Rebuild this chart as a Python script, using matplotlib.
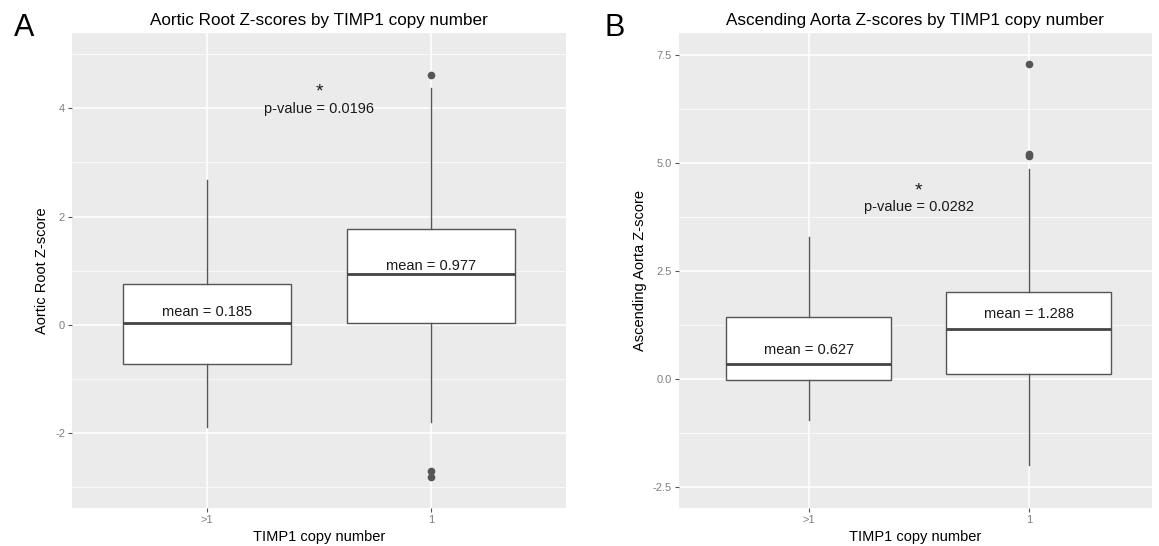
import matplotlib.pyplot as plt

plt.rcParams['font.family'] = ['Liberation Sans', 'DejaVu Sans']
plt.rcParams['axes.unicode_minus'] = False

groups = [">1", "1"]

# panel A: aortic root z-scores
root_q1 = [-0.73, 0.04]
root_med = [0.04, 0.94]
root_q3 = [0.75, 1.78]
root_whislo = [-1.88, -1.80]
root_whishi = [2.67, 4.37]
root_fliers = [[], [4.61, -2.69, -2.81]]
root_means = ["0.185", "0.977"]
root_mean_y = [0.24, 1.09]
root_p = "0.0196"

# panel B: ascending aorta z-scores
asc_q1 = [-0.03, 0.11]
asc_med = [0.35, 1.15]
asc_q3 = [1.43, 2.01]
asc_whislo = [-0.96, -2.0]
asc_whishi = [3.29, 4.86]
asc_fliers = [[], [7.3, 5.2, 5.15]]
asc_means = ["0.627", "1.288"]
asc_mean_y = [0.68, 1.50]
asc_p = "0.0282"

W, H = 1159, 546
fig = plt.figure(figsize=(W / 100, H / 100), dpi=100)


def px_axes(left, right, top, bottom):
    return fig.add_axes([left / W, 1 - bottom / H, (right - left) / W, (bottom - top) / H])


def draw_panel(ax, q1, med, q3, lo, hi, fliers, means, mean_y, pval, star_y,
               ylim, yticks, yminor, ylabel, xlim, title):
    ax.set_facecolor('#EBEBEB')
    for s in ax.spines.values():
        s.set_visible(False)

    stats = []
    for i in range(2):
        stats.append(dict(q1=q1[i], med=med[i], q3=q3[i], whislo=lo[i],
                          whishi=hi[i], fliers=fliers[i]))
    ax.bxp(stats, positions=[1, 2], widths=0.75, patch_artist=True,
           showcaps=False,
           boxprops=dict(facecolor='white', edgecolor='#555555', lw=1.0),
           whiskerprops=dict(color='#555555', lw=1.0),
           medianprops=dict(color='#444444', lw=2.0),
           flierprops=dict(marker='o', markerfacecolor='#555555',
                           markeredgecolor='#555555', markersize=4.5))

    ax.set_xlim(*xlim)
    ax.set_ylim(*ylim)
    ax.set_yticks(yticks)
    ax.set_yticks(yminor, minor=True)
    ax.set_xticks([1, 2])
    ax.set_xticklabels(groups)
    ax.grid(which='major', color='white', lw=1.1)
    ax.grid(which='minor', axis='y', color='white', lw=0.5)
    ax.set_axisbelow(True)
    ax.tick_params(which='major', length=3, color='#555555', labelcolor='#7F7F7F',
                   labelsize=8, pad=2)
    ax.tick_params(which='minor', length=0)

    for i in range(2):
        ax.text(i + 1, mean_y[i], "mean = " + means[i], ha='center', va='center',
                fontsize=10.5, color='#1a1a1a')
    ax.text(1.5, star_y, "*", ha='center', va='bottom', fontsize=14, color='#1a1a1a')
    ax.text(1.5, 3.98, "p-value = " + pval, ha='center',
            va='center', fontsize=10.5, color='#1a1a1a')
    ax.set_xlabel("TIMP1 copy number", fontsize=10.5, labelpad=4)
    ax.set_ylabel(ylabel, fontsize=10.5, labelpad=4)
    ax.set_title(title, fontsize=12.3, pad=6)


axA = px_axes(72, 566, 33, 508)
draw_panel(axA, root_q1, root_med, root_q3, root_whislo, root_whishi, root_fliers,
           root_means, root_mean_y, root_p, 4.15, (-3.38, 5.39), [-2, 0, 2, 4],
           [-3, -1, 1, 3, 5], "Aortic Root Z-score", (0.4, 2.6),
           "Aortic Root Z-scores by TIMP1 copy number")

axB = px_axes(679, 1152, 33, 508)
draw_panel(axB, asc_q1, asc_med, asc_q3, asc_whislo, asc_whishi, asc_fliers,
           asc_means, asc_mean_y, asc_p, 4.16, (-2.99, 8.01), [-2.5, 0, 2.5, 5, 7.5],
           [-1.25, 1.25, 3.75, 6.25], "Ascending Aorta Z-score", (0.41, 2.56),
           "Ascending Aorta Z-scores by TIMP1 copy number")
axB.set_yticklabels(["-2.5", "0.0", "2.5", "5.0", "7.5"])

fig.text(24 / W, 1 - 28 / H, "A", ha='center', va='center', fontsize=22)
fig.text(615 / W, 1 - 28 / H, "B", ha='center', va='center', fontsize=22)

fig.savefig("out.png", dpi=100, facecolor='white')
